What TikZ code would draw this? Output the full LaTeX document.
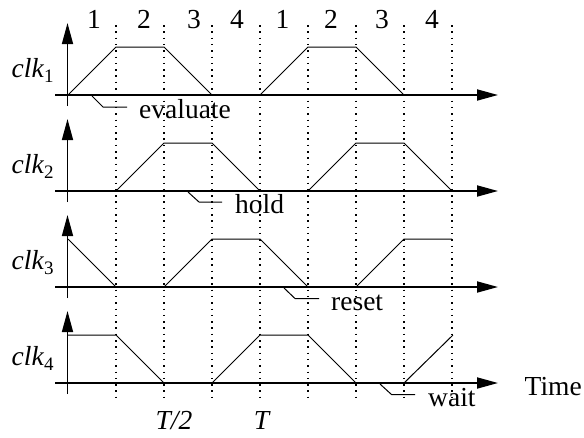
\documentclass[tikz,border=0pt]{standalone}
\usepackage{fontspec}
\setmainfont{Liberation Serif}
\usetikzlibrary{arrows.meta}
\begin{document}
\begin{tikzpicture}[x=1pt,y=-1pt,
  haxis/.style={line width=1.8pt,-{Triangle[length=21pt,width=11pt]}},
  vaxis/.style={line width=1.5pt,-{Triangle[length=21pt,width=11pt]}},
  sig/.style={line width=1pt, line join=miter},
  gridline/.style={line width=1.5pt, dash pattern=on 1.5pt off 4.8pt},
  txt/.style={font=\fontsize{27.5}{30}\selectfont, inner sep=0pt},
  lead/.style={line width=1pt}]
\useasboundingbox (0,0) rectangle (584,437);
% dotted time markers
\foreach \x in {116,164,212,260,308,356,404,452}
  \draw[gridline] (\x,25) -- (\x,402);
% axes
\foreach \b/\n in {95/1,191/2,287/3,383/4}{
  \draw[haxis] (55,\b) -- (498,\b);
  \draw[vaxis] (67.5,\b+11) -- (67.5,\b-72);
  \node[txt, anchor=base west] (clk\n) at (11.5,\b-18)
    {\itshape clk\/\upshape\raisebox{-5pt}{\fontsize{19}{20}\selectfont \n}};
}
% phase numbers
\foreach \x/\t [count=\i] in {94/1,144/2,194/3,237/4,282.5/1,331/2,382/3,432/4}
  \node[txt, anchor=base] (ph\i) at (\x,28) {\t};
% clk1
\draw[sig] (68,95) -- (116,47) -- (164,47) -- (212,95);
\draw[sig] (260,95) -- (308,47) -- (356,47) -- (404,95);
% clk2
\draw[sig] (116,191) -- (164,143) -- (212,143) -- (260,191);
\draw[sig] (308,191) -- (356,143) -- (404,143) -- (452,191);
% clk3
\draw[sig] (68,239) -- (116,287);
\draw[sig] (164,287) -- (212,239) -- (260,239) -- (308,287);
\draw[sig] (356,287) -- (404,239) -- (452,239);
% clk4
\draw[sig] (68,335) -- (116,335) -- (164,383);
\draw[sig] (212,383) -- (260,335) -- (308,335) -- (356,383);
\draw[sig] (404,383) -- (453,335);
% labels with leaders
\node[txt, anchor=base west] (eval) at (139,118.5) {evaluate};
\draw[lead] (92,96) -- (103,107) -- (127,107);
\node[txt, anchor=base west] (hold) at (235,213) {hold};
\draw[lead] (188,192) -- (199,202) -- (222,202);
\node[txt, anchor=base west] (reset) at (331,310.5) {reset};
\draw[lead] (284,288) -- (295,298.5) -- (319,298.5);
\node[txt, anchor=base west] (wait) at (428,406.5) {wait};
\draw[lead] (380,384) -- (391.5,394.5) -- (415,394.5);
% time axis labels
\node[txt, anchor=base west] (time) at (524.5,395) {Time};
\node[txt, anchor=base, font=\fontsize{27.5}{30}\selectfont\itshape] (thalf) at (174,429) {T/2};
\node[txt, anchor=base, font=\fontsize{27.5}{30}\selectfont\itshape] (tfull) at (261.5,429) {T};
\end{tikzpicture}
\end{document}
